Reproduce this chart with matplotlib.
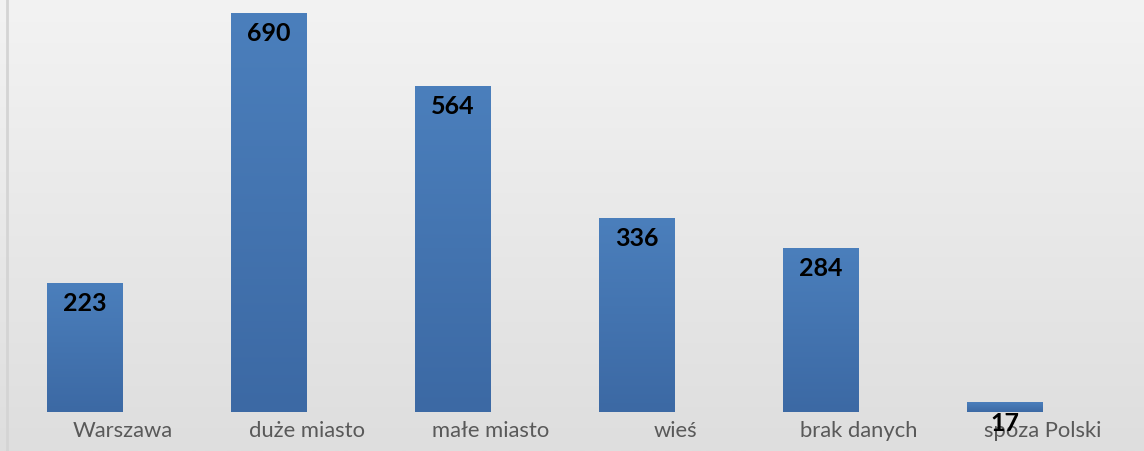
import numpy as np
import matplotlib
matplotlib.use('Agg')
import matplotlib.pyplot as plt
from matplotlib.colors import LinearSegmentedColormap
from matplotlib.lines import Line2D

plt.rcParams['font.family'] = ['Lato', 'DejaVu Sans']

# data
categories = ['Warszawa', 'duże miasto', 'małe miasto', 'wieś', 'brak danych', 'spoza Polski']
values = [223, 690, 564, 336, 284, 17]

W, H = 1144, 452
fig = plt.figure(figsize=(W / 100, H / 100), dpi=100)

# background gradient over whole figure
bg = fig.add_axes([0, 0, 1, 1])
bg.axis('off')
bg_cmap = LinearSegmentedColormap.from_list('bg', ['#f3f3f3', '#dedede'])
bg.imshow(np.linspace(0, 1, 256).reshape(-1, 1), aspect='auto', cmap=bg_cmap,
          extent=[0, 1, 0, 1], origin='upper')
bg.set_xlim(0, 1)
bg.set_ylim(0, 1)

# left border line
fig.add_artist(Line2D([6.5 / W, 6.5 / W], [0, 1], color='#d4d4d4', lw=2))

# main axes, bottom at bar baseline
base_px = 413
ax = fig.add_axes([0, (H - base_px) / H, 1, base_px / H])
ax.patch.set_visible(False)
px_per_unit = (base_px - 14) / 690.0
ax.set_ylim(0, base_px / px_per_unit)
slot = 184.0
x0 = 123.0

bw = 76 / slot
xs = np.arange(len(categories))
bars = ax.bar(xs - bw / 2, values, width=bw, color='none', edgecolor='none')

# vertical gradient in each bar
bar_cmap = LinearSegmentedColormap.from_list('bar', ['#4b7fbc', '#3c69a4'])
grad = np.linspace(0, 1, 256).reshape(-1, 1)
for b in bars:
    x, y = b.get_x(), b.get_y()
    w, h = b.get_width(), b.get_height()
    im = ax.imshow(grad, aspect='auto', cmap=bar_cmap, origin='upper',
                   extent=[x, x + w, y, y + h], zorder=2)
    im.set_clip_path(b)

for xi, v in zip(xs, values):
    ax.annotate(str(v), (xi - bw / 2, v), xytext=(0, -6), textcoords='offset points',
                ha='center', va='top', fontsize=18, fontweight='bold', color='black', zorder=5)

ax.set_xticks(xs, categories)
ax.tick_params(axis='x', length=0, pad=6, labelsize=15.8, labelcolor='#595959')
ax.set_yticks([])
for s in ax.spines.values():
    s.set_visible(False)
ax.set_xlim(-x0 / slot, (W - x0) / slot)

fig.savefig('out.png', dpi=100)
